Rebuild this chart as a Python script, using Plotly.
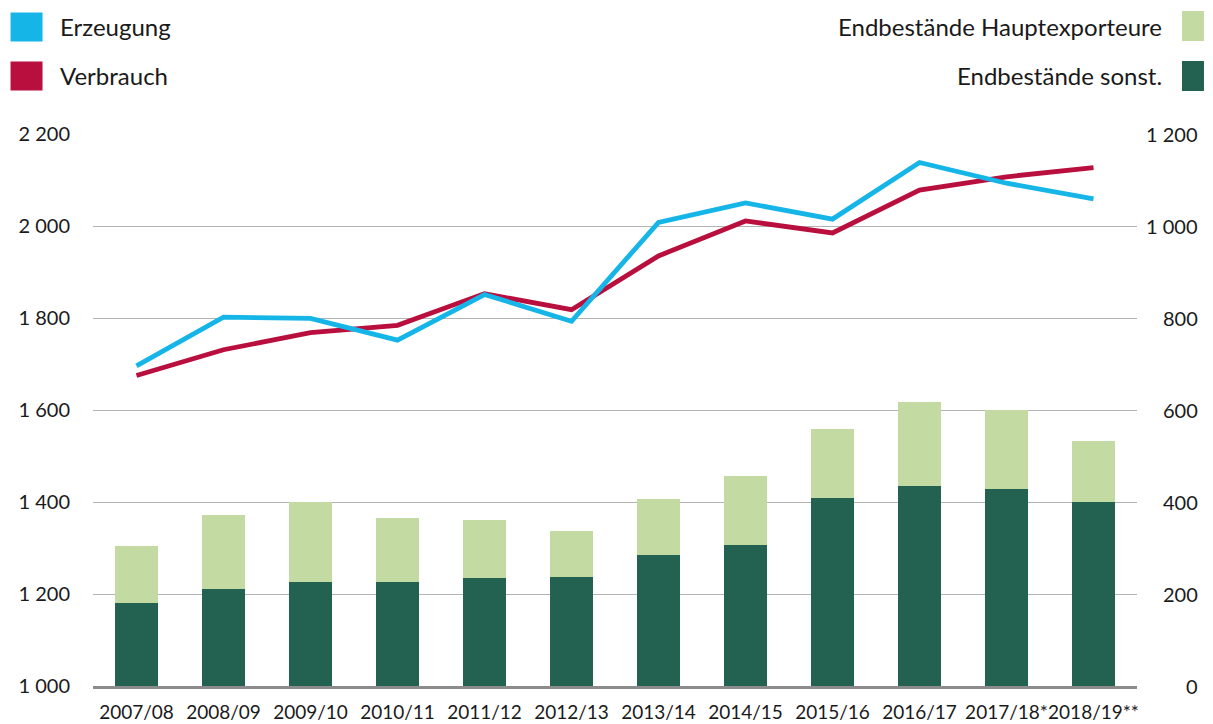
import plotly.graph_objects as go

categories = ["2007/08", "2008/09", "2009/10", "2010/11", "2011/12", "2012/13",
              "2013/14", "2014/15", "2015/16", "2016/17", "2017/18*", "2018/19**"]
erzeugung = [1696, 1802, 1799, 1752, 1851, 1793, 2008, 2050, 2015, 2138, 2093, 2059]
verbrauch = [1675, 1731, 1768, 1784, 1853, 1818, 1935, 2011, 1985, 2078, 2107, 2127]
endb_sonst = [180, 211, 227, 227, 235, 237, 284, 307, 408, 435, 428, 400]
endb_haupt = [124, 161, 173, 138, 126, 100, 123, 149, 151, 182, 172, 133]

left_ticks = [1000, 1200, 1400, 1600, 1800, 2000, 2200]
right_ticks = [0, 200, 400, 600, 800, 1000, 1200]

BLUE = "#15b5e8"
RED = "#b80f3e"
LIGHT = "#c3dba3"
DARK = "#236150"
FONT = "Lato"

W, H = 1213, 724
X0, X1 = 92.5, 1137.0
YT, YB = 134.0, 686.0


def px(x):
    return (x - X0) / (X1 - X0)


def py(y):
    return (YB - y) / (YB - YT)


def fmt(v):
    return f"{v:,}".replace(",", " ")


fig = go.Figure()
fig.add_trace(go.Bar(x=categories, y=endb_sonst, marker=dict(color=DARK, line=dict(width=0)),
                     name="Endbestände sonst.", yaxis="y"))
fig.add_trace(go.Bar(x=categories, y=endb_haupt, marker=dict(color=LIGHT, line=dict(width=0)),
                     name="Endbestände Hauptexporteure", yaxis="y"))
fig.add_trace(go.Scatter(x=categories, y=verbrauch, mode="lines", line=dict(color=RED, width=4.8),
                         name="Verbrauch", yaxis="y2"))
fig.add_trace(go.Scatter(x=categories, y=erzeugung, mode="lines", line=dict(color=BLUE, width=4.8),
                         name="Erzeugung", yaxis="y2"))

annotations = []
for v in right_ticks:
    annotations.append(dict(x=px(1200), xref="paper", y=v, yref="y", xanchor="right",
                            yanchor="middle", text=fmt(v), showarrow=False,
                            font=dict(family=FONT, size=20, color="#1a1a1a")))

shapes = []
legend_left = [("Erzeugung", BLUE, 27), ("Verbrauch", RED, 76)]
for label, col, yc in legend_left:
    shapes.append(dict(type="rect", xref="paper", yref="paper", x0=px(10), x1=px(42),
                       y0=py(yc + 14.5), y1=py(yc - 14.5), fillcolor=col, line=dict(width=0)))
    annotations.append(dict(x=px(57), xref="paper", y=py(yc), yref="paper", xanchor="left",
                            yanchor="middle", text=label, showarrow=False,
                            font=dict(family=FONT, size=24, color="#1a1a1a")))
legend_right = [("Endbestände Hauptexporteure", LIGHT, 26), ("Endbestände sonst.", DARK, 76)]
for label, col, yc in legend_right:
    shapes.append(dict(type="rect", xref="paper", yref="paper", x0=px(1182), x1=px(1204),
                       y0=py(yc + 15), y1=py(yc - 15), fillcolor=col, line=dict(width=0)))
    annotations.append(dict(x=px(1164), xref="paper", y=py(yc), yref="paper", xanchor="right",
                            yanchor="middle", text=label, showarrow=False,
                            font=dict(family=FONT, size=24, color="#1a1a1a")))

fig.update_layout(
    width=W, height=H,
    margin=dict(l=X0, r=W - X1, t=YT, b=H - YB, pad=0),
    paper_bgcolor="white", plot_bgcolor="white",
    barmode="stack", bargap=0.5,
    showlegend=False,
    separators=". ",
    font=dict(family=FONT, size=20, color="#1a1a1a"),
    xaxis=dict(type="category", range=[-0.5, 11.5], showgrid=False, ticks="",
               showline=True, linecolor="#8c8c8c", linewidth=3,
               tickangle=0, automargin=False, ticklabelstandoff=7,
               tickfont=dict(family=FONT, size=19, color="#1a1a1a"), fixedrange=True),
    yaxis=dict(side="right", range=[0, 1200], tickvals=right_ticks, showticklabels=False,
               showgrid=True, gridcolor="#b3b3b3", gridwidth=1, zeroline=False, ticks="",
               automargin=False),
    yaxis2=dict(side="left", overlaying="y", range=[1000, 2200], tickvals=left_ticks,
                ticktext=[fmt(v) for v in left_ticks], showgrid=False, zeroline=False,
                ticks="", ticklabelstandoff=22, automargin=False,
                tickfont=dict(family=FONT, size=20, color="#1a1a1a")),
    annotations=annotations,
    shapes=shapes,
)

fig.write_html("out.html")
